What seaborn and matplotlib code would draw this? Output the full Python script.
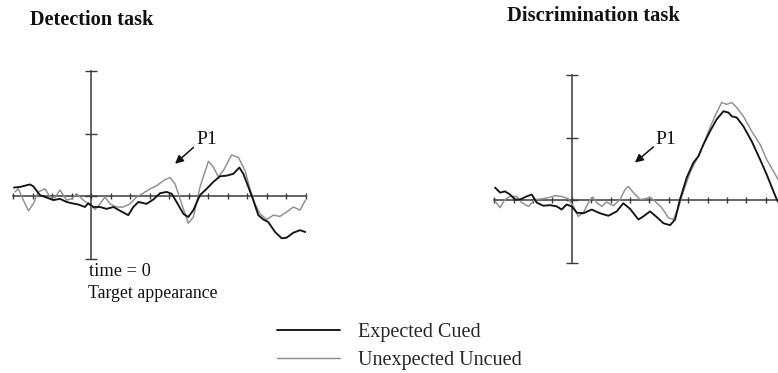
import numpy as np
import pandas as pd
import matplotlib
matplotlib.use("Agg")
import matplotlib.pyplot as plt
import seaborn as sns
from matplotlib.lines import Line2D

# ---------------- data (time in 50 ms units, amplitude in tick units) ----------------
det_cued_t = [-3.95, -3.64, -3.13, -2.96, -2.62, -2.27, -1.93, -1.59, -1.25, -0.99, -0.65, -0.31, -0.14,
              0.12, 0.46, 0.80, 1.15, 1.49, 1.91, 2.17, 2.43, 2.85, 3.20, 3.54, 3.88, 4.14, 4.39, 4.74,
              4.99, 5.25, 5.59, 5.93, 6.27, 6.62, 6.96, 7.30, 7.61, 7.81, 8.07, 8.32, 8.58, 8.84, 9.09,
              9.44, 9.78, 10.03, 10.38, 10.72, 11.0]
det_cued_v = [0.14, 0.15, 0.19, 0.16, 0.02, -0.02, -0.06, -0.04, -0.09, -0.11, -0.13, -0.17, -0.11,
              -0.17, -0.17, -0.20, -0.17, -0.23, -0.30, -0.17, -0.09, -0.12, -0.05, 0.05, 0.07, 0.04, -0.09, -0.28,
              -0.33, -0.22, 0.02, 0.12, 0.23, 0.32, 0.33, 0.36, 0.46, 0.36, 0.15, -0.06, -0.30, -0.37, -0.41,
              -0.57, -0.67, -0.66, -0.58, -0.54, -0.57]

det_unc_t = [-3.90, -3.73, -3.47, -3.21, -2.96, -2.70, -2.36, -2.10, -1.85, -1.59, -1.25, -0.99, -0.74,
             -0.39, -0.14, 0.21, 0.46, 0.72, 0.97, 1.32, 1.66, 2.00, 2.34, 2.68, 3.03, 3.37, 3.71, 4.05,
             4.31, 4.65, 4.99, 5.25, 5.59, 6.02, 6.27, 6.53, 6.79, 7.21, 7.56, 7.90, 8.15, 8.41, 8.67,
             9.01, 9.35, 9.69, 10.03, 10.38, 10.72, 11.0]
det_unc_v = [0.07, 0.12, -0.06, -0.23, -0.12, 0.07, 0.12, -0.01, -0.02, 0.10, -0.06, -0.04, 0.04,
             -0.06, -0.12, -0.21, -0.12, -0.01, -0.12, -0.17, -0.17, -0.12, -0.01, 0.05, 0.12, 0.17, 0.25, 0.30,
             0.20, -0.12, -0.43, -0.33, 0.15, 0.56, 0.47, 0.31, 0.41, 0.66, 0.62, 0.41, 0.12, -0.12, -0.28,
             -0.37, -0.30, -0.32, -0.25, -0.17, -0.22, -0.06]

dis_cued_t = [-3.95, -3.69, -3.44, -3.18, -2.92, -2.66, -2.32, -2.06, -1.80, -1.46, -1.12, -0.77, -0.52,
              -0.26, 0.0, 0.26, 0.60, 1.03, 1.46, 1.89, 2.32, 2.66, 3.01, 3.44, 3.69, 4.04, 4.38, 4.73,
              5.07, 5.33, 5.58, 5.93, 6.27, 6.53, 6.79, 7.13, 7.47, 7.82, 8.08, 8.25, 8.51, 8.85, 9.28,
              9.71, 10.05, 10.40, 10.57, 10.80, 11.0]
dis_cued_v = [0.20, 0.12, 0.14, 0.09, 0.01, 0.01, 0.06, 0.09, -0.04, -0.09, -0.08, -0.10, -0.15,
              -0.07, -0.10, -0.20, -0.21, -0.15, -0.21, -0.25, -0.18, -0.05, -0.14, -0.31, -0.26, -0.18, -0.27, -0.37,
              -0.40, -0.31, 0.01, 0.36, 0.60, 0.70, 0.89, 1.10, 1.29, 1.42, 1.40, 1.34, 1.32, 1.18, 0.94,
              0.65, 0.41, 0.14, 0.01, -0.10, -0.20]

dis_unc_t = [-3.95, -3.69, -3.44, -3.18, -2.84, -2.58, -2.23, -1.89, -1.55, -1.20, -0.86, -0.52, -0.17,
             0.09, 0.34, 0.60, 0.86, 1.08, 1.29, 1.55, 1.80, 2.15, 2.49, 2.75, 2.92, 3.18, 3.52, 3.78,
             4.04, 4.30, 4.64, 4.98, 5.24, 5.50, 5.76, 6.10, 6.44, 6.79, 7.13, 7.47, 7.73, 7.99, 8.25,
             8.51, 8.85, 9.28, 9.71, 10.05, 10.40, 10.64, 11.0]
dis_unc_v = [-0.02, -0.12, 0.01, 0.06, 0.06, -0.04, -0.10, 0.01, 0.02, 0.04, 0.07, 0.06, 0.02,
             -0.10, -0.26, -0.20, -0.04, 0.05, -0.04, -0.10, -0.03, -0.09, 0.01, 0.17, 0.22, 0.12, 0.01, 0.02,
             0.05, -0.02, -0.12, -0.28, -0.31, -0.12, 0.14, 0.44, 0.65, 0.89, 1.16, 1.40, 1.56, 1.53, 1.56,
             1.48, 1.34, 1.10, 0.89, 0.65, 0.46, 0.33, 0.10]

conditions = ["Expected Cued", "Unexpected Uncued"]
panel_titles = ["Detection task", "Discrimination task"]
x_ticks = list(range(-4, 12))
y_ticks = [-1, 0, 1, 2]

# ---------------- style ----------------
sns.set_style("white")
plt.rcParams["font.family"] = ["Liberation Serif", "DejaVu Serif"]

palette = {"Expected Cued": "#141414", "Unexpected Uncued": "#8f8f8f"}
AX_COLOR = "#3a3a3a"
TXT = "#111111"

fig = plt.figure(figsize=(7.78, 3.73), dpi=100)
W, H = 778.0, 373.0


def make_axes(left_px, top_px, w_px, h_px):
    return fig.add_axes([left_px / W, 1 - (top_px + h_px) / H, w_px / W, h_px / H])


def df_for(t1, v1, t2, v2):
    return pd.concat([
        pd.DataFrame({"time": t1, "amp": v1, "cond": conditions[0]}),
        pd.DataFrame({"time": t2, "amp": v2, "cond": conditions[1]}),
    ], ignore_index=True)


def style_axes(ax):
    ax.set_xlim(-4, 11)
    ax.set_ylim(-1, 2)
    for s in ["top", "right"]:
        ax.spines[s].set_visible(False)
    ax.spines["left"].set_position(("data", 0))
    ax.spines["bottom"].set_position(("data", 0))
    for s in ["left", "bottom"]:
        ax.spines[s].set_color(AX_COLOR)
        ax.spines[s].set_linewidth(1.1)
        ax.spines[s].set_zorder(1)
    ax.set_xticks(x_ticks)
    ax.set_yticks(y_ticks)
    ax.tick_params(axis="x", direction="inout", length=5, width=1.0, color=AX_COLOR,
                   labelbottom=False, bottom=True)
    ax.tick_params(axis="y", direction="inout", length=8, width=1.0, color=AX_COLOR,
                   labelleft=False, left=True)
    ax.set_xlabel("")
    ax.set_ylabel("")
    ax.patch.set_alpha(0)


def draw_panel(ax, data):
    sns.lineplot(data=data, x="time", y="amp", hue="cond", hue_order=conditions,
                 palette=palette, ax=ax, legend=False, estimator=None, sort=False)
    style_axes(ax)
    for ln in ax.lines:
        if ln.get_color() == palette[conditions[0]]:
            ln.set_linewidth(1.35)
            ln.set_zorder(4)
        else:
            ln.set_linewidth(1.05)
            ln.set_zorder(3)


# left panel: x -4..11 -> px 13..305.5, y -1..2 -> px 259..71
ax1 = make_axes(13, 71, 292.5, 188)
draw_panel(ax1, df_for(det_cued_t, det_cued_v, det_unc_t, det_unc_v))

# right panel (extends past the right image edge)
ax2 = make_axes(494.1, 75, 291, 187.7)
draw_panel(ax2, df_for(dis_cued_t, dis_cued_v, dis_unc_t, dis_unc_v))

# annotations "P1"
arrow_kw = dict(arrowstyle="-|>", color=TXT, lw=1.1, mutation_scale=12, shrinkA=0, shrinkB=0)
ax1.text(5.38, 0.90, "P1", fontsize=14, va="center", ha="left", color=TXT)
ax1.annotate("", xy=(4.31, 0.52), xytext=(5.25, 0.78), arrowprops=arrow_kw)
ax2.text(4.29, 0.97, "P1", fontsize=14, va="center", ha="left", color=TXT)
ax2.annotate("", xy=(3.26, 0.60), xytext=(4.21, 0.85), arrowprops=arrow_kw)

# titles
fig.text(30 / W, 1 - 20 / H, panel_titles[0], fontsize=14.6, fontweight="bold",
         ha="left", va="center", color=TXT)
fig.text(507 / W, 1 - 16 / H, panel_titles[1], fontsize=14.8, fontweight="bold",
         ha="left", va="center", color=TXT)

# time = 0 labels
fig.text(89 / W, 1 - 272 / H, "time = 0", fontsize=13.2, ha="left", va="center", color=TXT)
fig.text(88 / W, 1 - 294 / H, "Target appearance", fontsize=12.8, ha="left", va="center", color=TXT)

# legend
handles = [Line2D([], [], color=palette[c], lw=(1.35 if i == 0 else 1.05)) for i, c in enumerate(conditions)]
fig.legend(handles, conditions, loc="upper left", bbox_to_anchor=(277 / W, 1 - 323 / H),
           frameon=False, fontsize=14.5, handlelength=3.15, handletextpad=0.85,
           labelspacing=0.42, borderpad=0, borderaxespad=0)

fig.savefig("out.png", dpi=100)
